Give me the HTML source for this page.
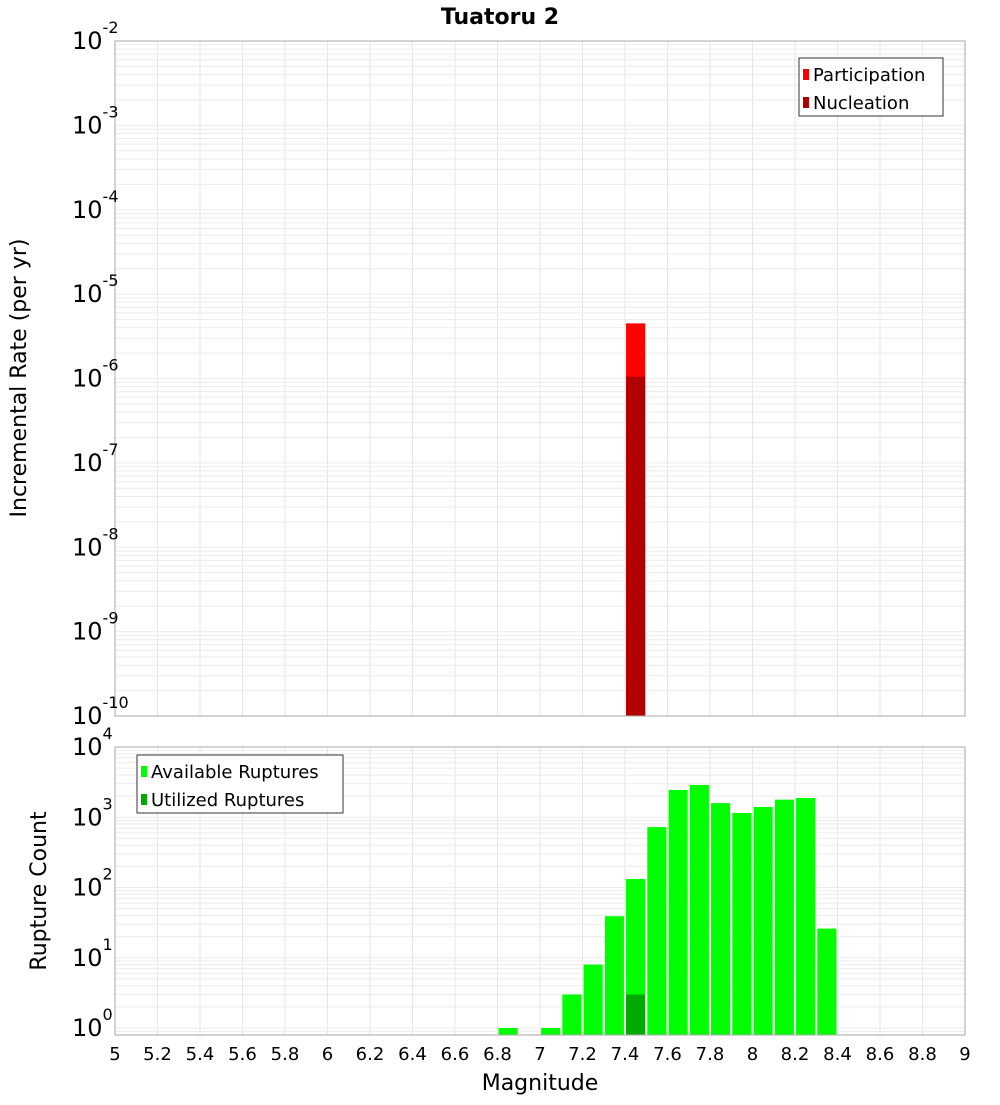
<!DOCTYPE html>
<html><head><meta charset="utf-8"><style>
body{margin:0;background:#fff}
svg text{font-family:"DejaVu Sans","Liberation Sans",sans-serif}
</style></head><body>
<svg id="c" width="1000" height="1100" xmlns="http://www.w3.org/2000/svg"></svg>
<script>
const xTicks=[5,5.2,5.4,5.6,5.8,6,6.2,6.4,6.6,6.8,7,7.2,7.4,7.6,7.8,8,8.2,8.4,8.6,8.8,9];
const rateMags=[7.45];
const participation=[4.5e-6];
const nucleation=[1.05e-6];
const countMags=[6.85,7.05,7.15,7.25,7.35,7.45,7.55,7.65,7.75,7.85,7.95,8.05,8.15,8.25,8.35];
const available=[1,1,3,8,39,132,725,2450,2880,1590,1150,1400,1780,1880,26];
const utilMags=[7.45];
const utilized=[3];
const topExps=[-2,-3,-4,-5,-6,-7,-8,-9,-10];
const botExps=[4,3,2,1,0];

const svg=document.getElementById('c');
const NS='http://www.w3.org/2000/svg';
function mk(tag,attrs,parent){const e=document.createElementNS(NS,tag);for(const k in attrs)e.setAttribute(k,attrs[k]);(parent||svg).appendChild(e);return e;}
const X0=115,X1=965;
const xs=m=>X0+(m-5)/4*(X1-X0);
// top plot
const T0=41,T1=716; const yt=v=>T0+(-2-Math.log10(v))*(T1-T0)/8;
// bottom plot
const B0=747,B1=1035,Bdec=70.25; const yb=v=>1028-Math.log10(v)*Bdec;

function grid(top,bot,yfun,loExp,hiExp,name){
  const g=mk('g',{});
  
  
  for(const t of xTicks){mk('line',{x1:xs(t),x2:xs(t),y1:top,y2:bot,stroke:'#e6e6e6','stroke-width':1},g);}
  for(let e=loExp;e<=hiExp;e++)for(let k=1;k<10;k++){const y=yfun(k*Math.pow(10,e));if(y>=top&&y<=bot)mk('line',{x1:X0,x2:X1,y1:y,y2:y,stroke:'#ebebeb','stroke-width':1},g);}
}
grid(T0,T1,yt,-10,-2,'top-grid');
grid(B0,B1,yb,-1,4,'bottom-grid');

// top bars
rateMags.forEach((m,i)=>{
  const w=(X1-X0)/40*0.9;
  const r=mk('rect',{x:xs(m)-w/2,y:yt(participation[i]),width:w,height:T1-yt(participation[i]),fill:'#ff0000'});
  
  
  const n=mk('rect',{x:xs(m)-w/2,y:yt(nucleation[i]),width:w,height:T1-yt(nucleation[i]),fill:'#b00000'});
  
  
});
// bottom bars
countMags.forEach((m,i)=>{
  const w=(X1-X0)/40*0.9;
  const r=mk('rect',{x:xs(m)-w/2,y:yb(available[i]),width:w,height:B1-yb(available[i]),fill:'#00ff00'});
  
  
});
utilMags.forEach((m,i)=>{
  const w=(X1-X0)/40*0.9;
  const r=mk('rect',{x:xs(m)-w/2,y:yb(utilized[i]),width:w,height:B1-yb(utilized[i]),fill:'#00aa00'});
  
  
});
// frames
const f1=mk('rect',{x:X0,y:T0,width:X1-X0,height:T1-T0,fill:'none',stroke:'#aaa'});


const f2=mk('rect',{x:X0,y:B0,width:X1-X0,height:B1-B0,fill:'none',stroke:'#aaa'});



function ylab(y,exp,name){
  const t=mk('text',{x:72,y:y+8,'font-size':24,fill:'#000'});
  
  
  t.textContent='10';
  const s=mk('tspan',{dy:-16,'font-size':16},t);s.textContent=String(exp);
}
topExps.forEach(e=>ylab(yt(Math.pow(10,e)),e,'top-y-tick-label'));
botExps.forEach(e=>ylab(yb(Math.pow(10,e)),e,'bottom-y-tick-label'));
xTicks.forEach(t=>{
  const l=mk('text',{x:xs(t),y:1060,'font-size':18,'text-anchor':'middle'});
  
  
  l.textContent=String(t);
});
function txt(s,attrs,name){const t=mk('text',attrs);t.textContent=s;return t;}
txt('Tuatoru 2',{x:500,y:24,'font-size':22,'font-weight':'bold','text-anchor':'middle'},'chart-title');
txt('Magnitude',{x:540,y:1090,'font-size':22,'text-anchor':'middle'},'x-axis-title');
txt('Incremental Rate (per yr)',{x:0,y:0,'font-size':22,'text-anchor':'middle',transform:'translate(26,378) rotate(-90)'},'top-y-axis-title');
txt('Rupture Count',{x:0,y:0,'font-size':22,'text-anchor':'middle',transform:'translate(46,891) rotate(-90)'},'bottom-y-axis-title');
// legends
function legend(x,y,w,items,name){
  const g=mk('g',{});
  mk('rect',{x:x,y:y,width:w,height:58,fill:'#fff',stroke:'#333'},g);
  items.forEach((it,i)=>{
    mk('rect',{x:x+4,y:y+11+i*28,width:6,height:11,fill:it[1]},g);
    const t=mk('text',{x:x+14,y:y+23+i*28,'font-size':18},g);t.textContent=it[0];
  });
}
legend(799,58,144,[['Participation','#ff0000'],['Nucleation','#b00000']],'top-legend');
legend(137,755,206,[['Available Ruptures','#00ff00'],['Utilized Ruptures','#00aa00']],'bottom-legend');
</script>
</body></html>
